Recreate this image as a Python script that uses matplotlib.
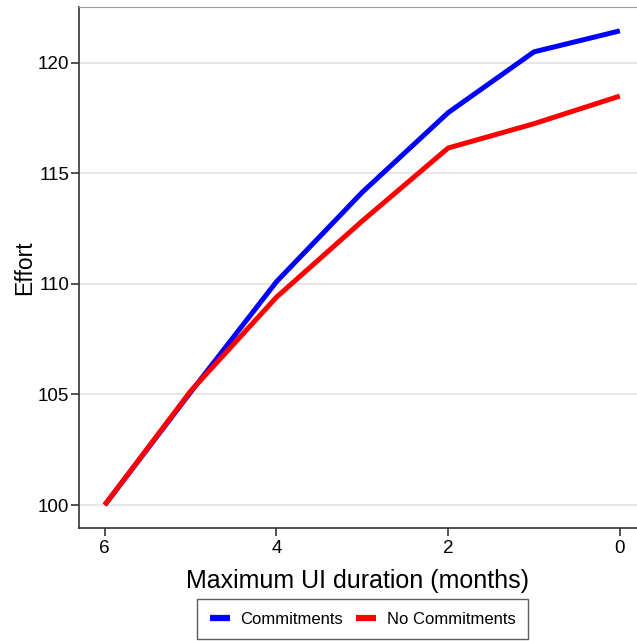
import numpy as np
import matplotlib.pyplot as plt

plt.rcParams['font.family'] = ['Liberation Sans', 'DejaVu Sans']

# data
months = [6, 5, 4, 3, 2, 1, 0]
commitments = [100.0, 105.1, 110.1, 114.15, 117.75, 120.5, 121.45]
no_commitments = [100.0, 105.15, 109.4, 112.85, 116.15, 117.25, 118.5]
yticks = [100, 105, 110, 115, 120]
xticks = [6, 4, 2, 0]

fig = plt.figure(figsize=(6.37, 6.41), dpi=100)
ax = fig.add_axes([0.124, 0.1763, 0.876, 0.8128])

# grid lines behind the data
for y in yticks:
    ax.axhline(y, color='#e3e3e3', lw=1.2, zorder=0)

ax.plot(months, commitments, color='#0000ff', lw=3.6, label='Commitments',
        solid_capstyle='butt')
ax.plot(months, no_commitments, color='#ff0000', lw=3.6,
        label='No Commitments', solid_capstyle='butt')

ax.set_xlim(6.30, -0.20)
ax.set_ylim(98.96, 122.53)
ax.set_xticks(xticks)
ax.set_yticks(yticks)
ax.tick_params(labelsize=13.6, length=5.5, width=1.2, color='#333333',
               direction='out')
ax.tick_params(axis='x', pad=3.5)
ax.tick_params(axis='y', pad=1.5)

ax.spines['right'].set_visible(False)
ax.spines['top'].set_color('#999999')
ax.spines['left'].set_color('#333333')
ax.spines['bottom'].set_color('#333333')
ax.spines['left'].set_linewidth(1.2)
ax.spines['bottom'].set_linewidth(1.2)

ax.set_xlabel('Maximum UI duration (months)', fontsize=18, labelpad=8.5)
ax.set_ylabel('Effort', fontsize=16.5)
ax.yaxis.set_label_coords(-0.077, 0.5)

leg = ax.legend(loc='lower center', bbox_to_anchor=(0.508, -0.214), ncol=2,
                fontsize=12, frameon=True, fancybox=False, handlelength=1.2,
                handletextpad=0.65, columnspacing=0.75, borderpad=0.75,
                borderaxespad=0)
leg.get_frame().set_edgecolor('#333333')
leg.get_frame().set_linewidth(1.0)
for line in leg.get_lines():
    line.set_linewidth(4.5)

fig.savefig('out.png', dpi=100)
